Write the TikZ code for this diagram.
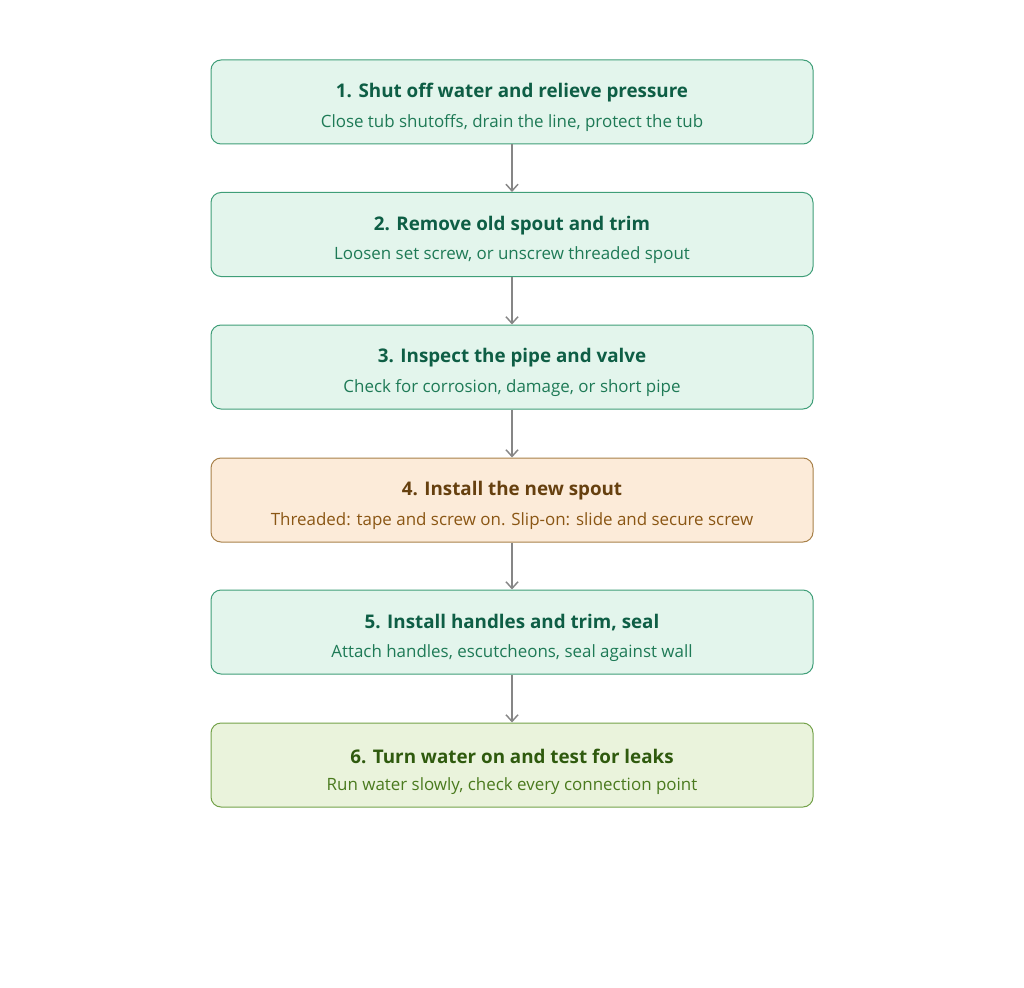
\documentclass[tikz,border=0pt]{standalone}
\usepackage{fontspec}
\setmainfont{Open Sans}
\usetikzlibrary{arrows.meta}
\definecolor{gfill}{HTML}{E3F5EC}\definecolor{gdraw}{HTML}{3F9E78}\definecolor{gtext}{HTML}{0E5E45}\definecolor{gsub}{HTML}{1E7A56}
\definecolor{ofill}{HTML}{FCEBD9}\definecolor{odraw}{HTML}{A8814A}\definecolor{otext}{HTML}{66400F}\definecolor{osub}{HTML}{8A5614}
\definecolor{lfill}{HTML}{EAF3DC}\definecolor{ldraw}{HTML}{74A24A}\definecolor{ltext}{HTML}{2F5A0E}\definecolor{lsub}{HTML}{4A7A1E}
\begin{document}
\begin{tikzpicture}[x=0.75pt,y=-0.75pt,
 box/.style={draw=#1draw,fill=#1fill,rounded corners=7.5pt,line width=0.75pt,minimum width=451.5pt,minimum height=63pt,inner sep=0pt},
 ttl/.style={text=#1text,font=\fontsize{14.1}{17}\selectfont\bfseries},
 sub/.style={text=#1sub,font=\fontsize{12.7}{15}\selectfont},
 arr/.style={draw=gray!95,line width=1.1pt,-{Straight Barb[length=5pt,width=9pt]}}]
\useasboundingbox (0,0) rectangle (1024,988);
\foreach \i/\y/\c/\t/\s in {
 1/102/g/{1. Shut off water and relieve pressure}/{Close tub shutoffs, drain the line, protect the tub},
 2/234.5/g/{2. Remove old spout and trim}/{Loosen set screw, or unscrew threaded spout},
 3/367/g/{3. Inspect the pipe and valve}/{Check for corrosion, damage, or short pipe},
 4/500/o/{4. Install the new spout}/{Threaded: tape and screw on. Slip-on: slide and secure screw},
 5/632/g/{5. Install handles and trim, seal}/{Attach handles, escutcheons, seal against wall},
 6/765/l/{6. Turn water on and test for leaks}/{Run water slowly, check every connection point}}{
 \node[box=\c] (b\i) at (512,\y) {};
 \node[ttl=\c] (t\i) at (512,\y-9) {\t};
 \node[sub=\c] (s\i) at (512,\y+21) {\s};
}
\foreach \a/\b in {1/2,2/3,3/4,4/5,5/6} \draw[arr] (b\a) -- (b\b);
\end{tikzpicture}
\end{document}
